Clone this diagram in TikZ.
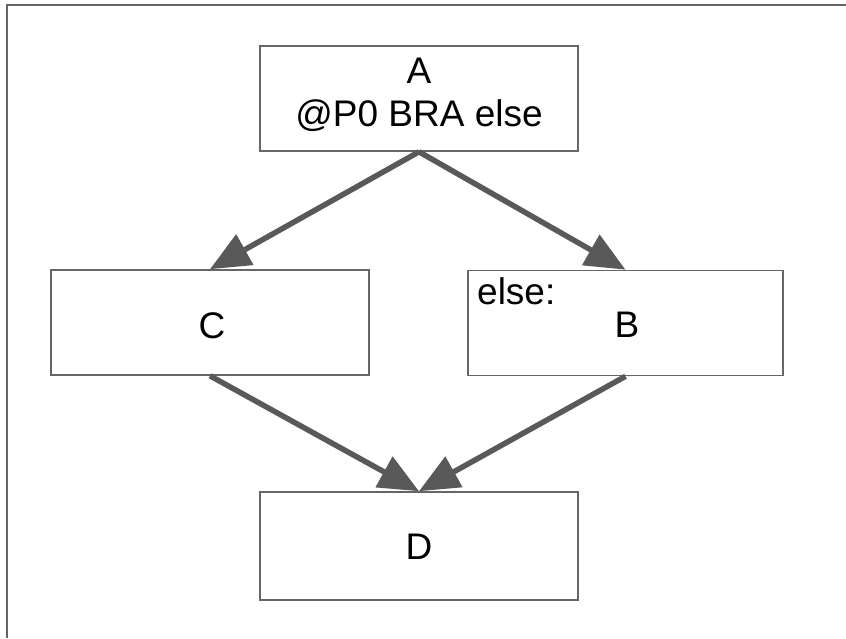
\documentclass[tikz,border=0pt]{standalone}
\usepackage{fontspec}
\setmainfont{Liberation Sans}
\usetikzlibrary{arrows.meta}
\definecolor{edgegray}{HTML}{595959}
\definecolor{framegray}{HTML}{666666}
\tikzset{
  blockbox/.style={draw=framegray, line width=1.6pt, fill=white, inner sep=0pt,
    minimum width=318pt, minimum height=105pt},
  label/.style={font=\fontsize{37}{44}\selectfont, inner sep=0pt, anchor=base},
  flow/.style={draw=edgegray, line width=5.5pt,
    -{Triangle[length=40pt,width=34pt]}},
}
\begin{document}
\begin{tikzpicture}[x=1pt,y=-1pt]
  \useasboundingbox (0,0) rectangle (846,638);
  % partial outer frame
  \draw[framegray, line width=1.8pt] (7,638) -- (7,5) -- (846,5);

  % blocks
  \node[blockbox] (A) at (419,98.5) {};
  \node[blockbox] (C) at (210,322.5) {};
  \node[blockbox, minimum width=315pt] (B) at (625.5,323) {};
  \node[blockbox, minimum height=108pt] (D) at (419,546) {};

  % block texts
  \node[label] (atitle) at (419,83) {A};
  \node[label] (acode) at (419,126) {@P0 BRA else};
  \node[label] (ctitle) at (212,338) {C};
  \node[label, anchor=base west] (belse) at (477,304) {else:};
  \node[label] (btitle) at (627,337) {B};
  \node[label] (dtitle) at (419,559) {D};

  % control flow edges
  \draw[flow] (A.south) -- (C.north);
  \draw[flow] (A.south) -- (B.north);
  \draw[flow] (C.south) -- (D.north);
  \draw[flow] (B.south) -- (D.north);
\end{tikzpicture}
\end{document}
